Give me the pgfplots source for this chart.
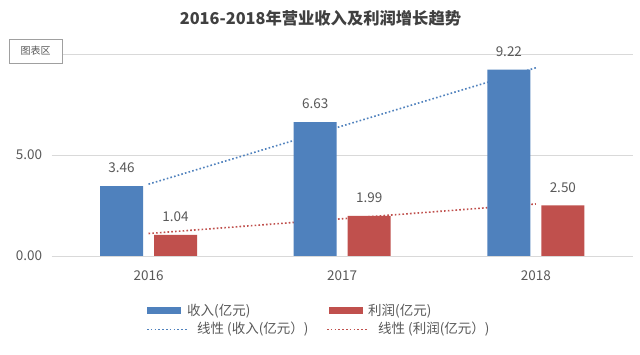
\documentclass[border=0pt]{standalone}
\usepackage{pgfplots}
\pgfplotsset{compat=1.18}
\usepackage{fontspec}
\setmainfont{Noto Sans CJK SC}
\definecolor{barblue}{HTML}{4F81BD}
\definecolor{barred}{HTML}{C0504D}
\definecolor{txt}{HTML}{595959}
\definecolor{gridgray}{HTML}{D9D9D9}
\begin{document}
\begin{tikzpicture}
\path[fill=white] (0pt,0pt) rectangle (640pt,355pt);
\begin{axis}[
  at={(51.7pt,99pt)}, anchor=south west,
  scale only axis, width=581pt, height=202pt,
  xmin=-0.5, xmax=2.5, ymin=0, ymax=10,
  axis line style={draw=none},
  xtick={0,1,2}, xticklabels={2016,2017,2018},
  ytick={0,5,10},
  yticklabels={0.00,5.00,{}},
  major tick length=0pt,
  ymajorgrids, xmajorgrids=false,
  major grid style={draw=gridgray, line width=0.8pt},
  tick label style={text=txt, font=\fontsize{13.5}{15}\selectfont},
  xticklabel style={inner sep=0pt, anchor=center, yshift=-19.5pt},
  yticklabel style={inner sep=0pt, anchor=east, xshift=-9.5pt},
  /pgf/number format/assume math mode=true,
  clip=false,
]
\addplot[barblue, line width=1.6pt, dash pattern=on 1.6pt off 2.2pt] coordinates {(0,3.557)(2,9.317)};
\addplot[barred, line width=1.6pt, dash pattern=on 1.6pt off 2.2pt] coordinates {(0,1.113)(2,2.573)};
\addplot[ybar, bar width=43pt, bar shift=-27pt, fill=barblue, draw=none,
  nodes near coords, point meta=explicit symbolic,
  every node near coord/.style={anchor=south, inner sep=0pt, xshift=-27pt, yshift=13pt, text=txt, font=\fontsize{13.5}{15}\selectfont}]
  coordinates {(0,3.46)[3.46] (1,6.63)[6.63] (2,9.22)[9.22]};
\addplot[ybar, bar width=43pt, bar shift=27pt, fill=barred, draw=none,
  nodes near coords, point meta=explicit symbolic,
  every node near coord/.style={anchor=south, inner sep=0pt, xshift=27pt, yshift=13pt, text=txt, font=\fontsize{13.5}{15}\selectfont}]
  coordinates {(0,1.04)[1.04] (1,1.99)[1.99] (2,2.50)[2.50]};
\end{axis}
% title
\node[text={rgb,255:red,64;green,64;blue,64}, font=\fontsize{16.3}{18}\selectfont\bfseries] at (320.5pt,337pt) {2016-2018年营业收入及利润增长趋势};
% chart area tooltip box
\node[draw={rgb,255:red,160;green,160;blue,160}, fill=white, minimum width=53pt, minimum height=24pt, inner sep=0pt, text=txt, font=\fontsize{10}{12}\selectfont] at (35.5pt,304pt) {图表区};
% legend
\fill[barblue] (147pt,40.5pt) rectangle (181pt,47.5pt);
\node[anchor=west, inner sep=0pt, text=txt, font=\fontsize{13.5}{16}\selectfont] at (187pt,44pt) {收入(亿元)};
\fill[barred] (329pt,40.5pt) rectangle (363pt,47.5pt);
\node[anchor=west, inner sep=0pt, text=txt, font=\fontsize{13.5}{16}\selectfont] at (368pt,44pt) {利润(亿元)};
\draw[barblue, line width=1.6pt, dash pattern=on 1.6pt off 2.2pt] (147pt,25.5pt) -- (187pt,25.5pt);
\node[anchor=west, inner sep=0pt, text=txt, font=\fontsize{13.5}{16}\selectfont] at (197pt,25.5pt) {线性 (收入(亿元）)};
\draw[barred, line width=1.6pt, dash pattern=on 1.6pt off 2.2pt] (327pt,25.5pt) -- (367pt,25.5pt);
\node[anchor=west, inner sep=0pt, text=txt, font=\fontsize{13.5}{16}\selectfont] at (378pt,25.5pt) {线性 (利润(亿元）)};
\end{tikzpicture}
\end{document}
